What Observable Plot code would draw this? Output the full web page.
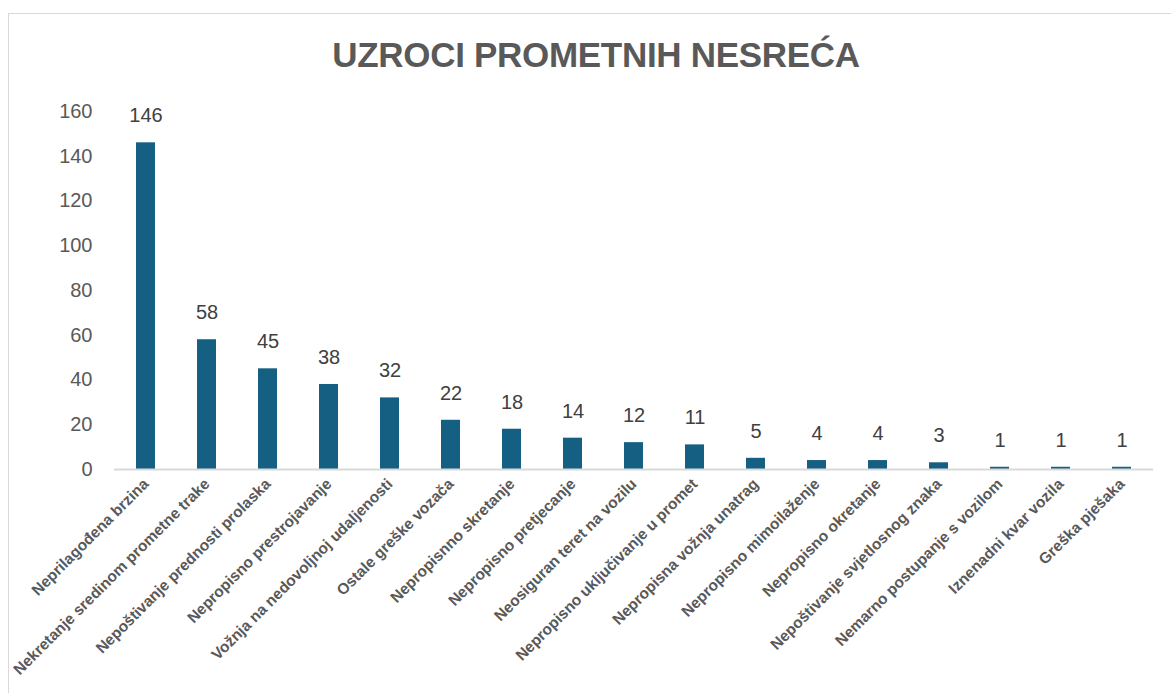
<!DOCTYPE html>
<html>
<head>
<meta charset="utf-8">
<script src="https://cdn.jsdelivr.net/npm/d3@7"></script>
<script src="https://cdn.jsdelivr.net/npm/@observablehq/plot@0.6"></script>
<style>
  html, body { margin: 0; padding: 0; background: #fff; }
  body { width: 1171px; height: 693px; position: relative; overflow: hidden; font-family: "Liberation Sans", Arial, sans-serif; }
  #frame { position: absolute; left: 8px; top: 13px; width: 1200px; height: 720px; border: 1.5px solid #d9d9d9; box-sizing: border-box; }
  #title { position: absolute; left: 0; width: 1192px; top: 35px; text-align: center; font-size: 35px; font-weight: bold; color: #595959; letter-spacing: -0.3px; }
  #chart { position: absolute; left: 0; top: 0; }
</style>
</head>
<body>
<div id="frame"></div>
<div id="title">UZROCI PROMETNIH NESREĆA</div>
<div id="chart"></div>
<script>
const categories = [
  "Neprilagođena brzina",
  "Nekretanje sredinom prometne trake",
  "Nepoštivanje prednosti prolaska",
  "Nepropisno prestrojavanje",
  "Vožnja na nedovoljnoj udaljenosti",
  "Ostale greške vozača",
  "Nepropisnno skretanje",
  "Nepropisno pretjecanje",
  "Neosiguran teret na vozilu",
  "Nepropisno uključivanje u promet",
  "Nepropisna vožnja unatrag",
  "Nepropisno mimoilaženje",
  "Nepropisno okretanje",
  "Nepoštivanje svjetlosnog znaka",
  "Nemarno postupanje s vozilom",
  "Iznenadni kvar vozila",
  "Greška pješaka"
];
const values = [146, 58, 45, 38, 32, 22, 18, 14, 12, 11, 5, 4, 4, 3, 1, 1, 1];
const yTicks = [0, 20, 40, 60, 80, 100, 120, 140, 160];

const data = categories.map((c, i) => ({category: c, value: values[i]}));

const chart = Plot.plot({
  width: 1171,
  height: 693,
  marginLeft: 114,
  marginRight: 18,
  marginTop: 111,
  marginBottom: 224,
  style: { background: "transparent", fontFamily: "Liberation Sans, Arial, sans-serif" },
  x: { domain: categories, paddingInner: 0.69, paddingOuter: 0.345, label: null },
  y: { domain: [0, 160], label: null },
  marks: [
    Plot.axisY({ ticks: yTicks, tickSize: 0, tickPadding: 22, fontSize: 20, color: "#595959", label: null }),
    Plot.axisX({ tickSize: 0, tickRotate: -45, tickPadding: 12, fontSize: 15.5, fontWeight: "bold", color: "#595959", label: null }),
    Plot.barY(data, { x: "category", y: "value", fill: "#156082" }),
    Plot.ruleY([0], { stroke: "#d9d9d9", strokeWidth: 2 }),
    Plot.text(data, { x: "category", y: "value", text: d => String(d.value), dy: -27, fontSize: 20, fill: "#404040" })
  ]
});
document.getElementById("chart").appendChild(chart);
</script>
</body>
</html>
